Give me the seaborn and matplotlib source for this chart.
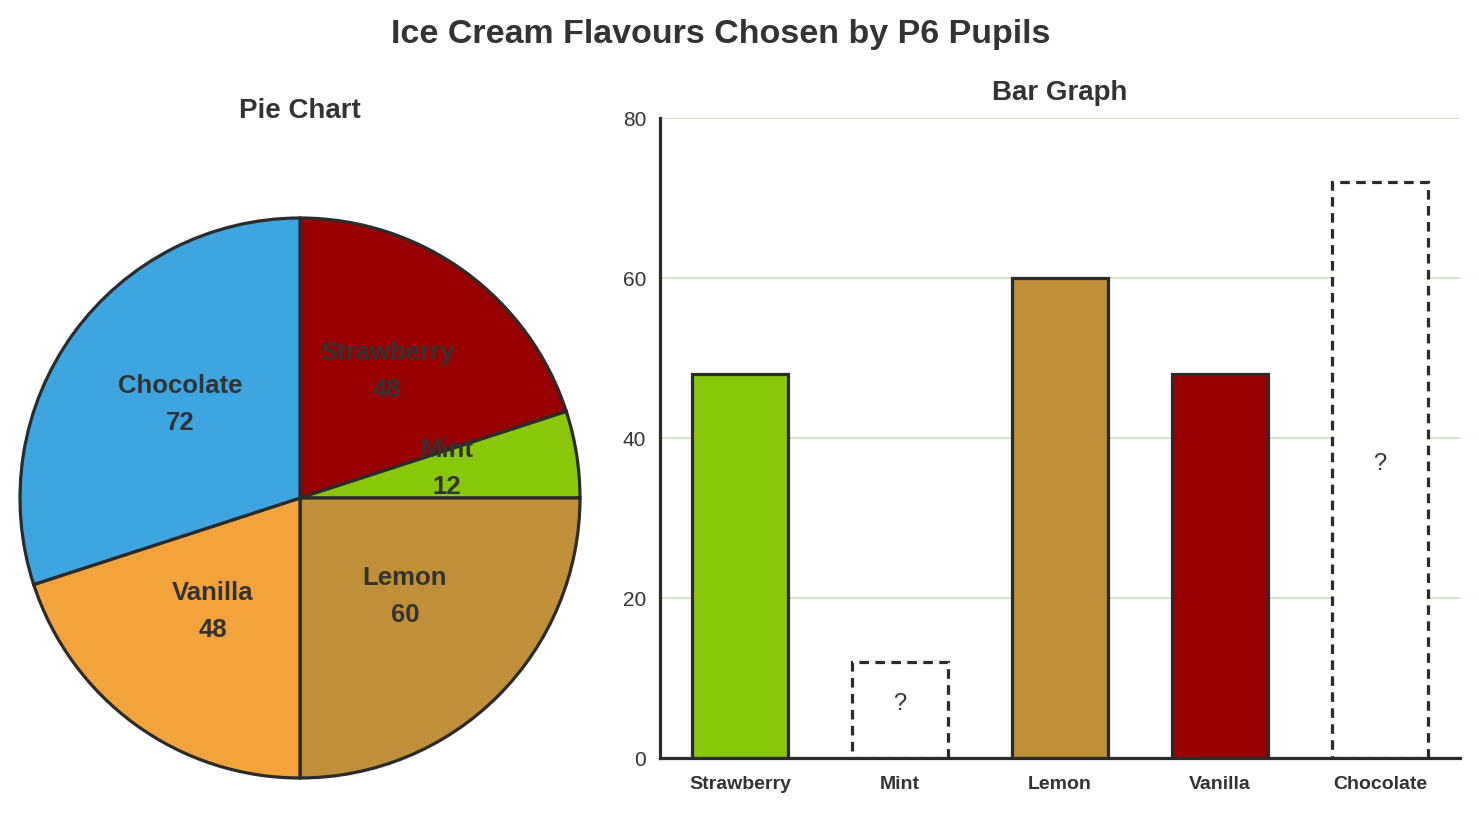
import matplotlib
matplotlib.use("Agg")
import matplotlib.pyplot as plt
import seaborn as sns

# --- dati ---
flavours = ["Strawberry", "Mint", "Lemon", "Vanilla", "Chocolate"]
pupils = [48, 12, 60, 48, 72]
pie_colors = ["#990000", "#88C709", "#BF9037", "#F2A33C", "#3DA5E0"]
bar_colors = ["#88C709", "#FFFFFF", "#BF9037", "#990000", "#FFFFFF"]
unknown = ["Mint", "Chocolate"]

sns.set_theme(style="white")
plt.rcParams["font.family"] = ["Liberation Sans", "DejaVu Sans"]
dark = "#333333"

fig = plt.figure(figsize=(14.79, 8.13), dpi=100)
W, H = 1479, 813

fig.text(721 / W, 1 - 35 / H, "Ice Cream Flavours Chosen by P6 Pupils",
         ha="center", va="center", fontsize=24.5, fontweight="bold", color=dark)

# --- torta ---
ax_pie = fig.add_axes([20 / W, 1 - 778 / H, 560 / W, 560 / H])
labels = [f"{f}\n{v}" for f, v in zip(flavours, pupils)]
wedges, texts = ax_pie.pie(pupils, labels=labels, colors=pie_colors, startangle=90,
                           counterclock=False, labeldistance=0.53,
                           wedgeprops=dict(edgecolor="#2b2b2b", linewidth=2.3),
                           textprops=dict(fontsize=18.5, fontweight="bold", color=dark,
                                          ha="center", va="center", linespacing=1.65))
# piccolo spostamento verso l'alto delle etichette
for t in texts:
    x, y = t.get_position()
    t.set_position((x, y + 0.023))
ax_pie.set_xlim(-1.0, 1.0)
ax_pie.set_ylim(-1.0, 1.0)
fig.text(300 / W, 1 - 111 / H, "Pie Chart", ha="center", va="center",
         fontsize=20, fontweight="bold", color=dark)

# --- barre ---
ax = fig.add_axes([660 / W, 1 - 758 / H, 800 / W, 640 / H])
sns.barplot(x=flavours, y=pupils, hue=flavours, palette=bar_colors, legend=False,
            width=0.6, edgecolor="#2b2b2b", linewidth=2.3, saturation=1, ax=ax)
for patch, f, v in zip(ax.patches, flavours, pupils):
    if f in unknown:
        patch.set_facecolor("white")
        patch.set_linestyle((0, (3, 2)))
        ax.text(patch.get_x() + patch.get_width() / 2, v / 2, "?", ha="center",
                va="baseline", fontsize=17, color=dark)

ax.set_xlim(-0.5, 4.5)
ax.set_ylim(0, 80)
ax.set_yticks([0, 20, 40, 60, 80])
ax.yaxis.grid(True, color="#d2e6c9", linewidth=1.5)
ax.set_axisbelow(True)
for s in ["top", "right"]:
    ax.spines[s].set_visible(False)
for s in ["left", "bottom"]:
    ax.spines[s].set_color("#2b2b2b")
    ax.spines[s].set_linewidth(2.3)
ax.tick_params(axis="x", length=0, pad=13, labelsize=14, labelcolor=dark)
ax.tick_params(axis="y", length=0, pad=10, labelsize=15, labelcolor=dark)
for lbl in ax.get_xticklabels():
    lbl.set_fontweight("bold")
ax.set_xlabel("")
ax.set_ylabel("")
ax.set_title("Bar Graph", fontsize=20, fontweight="bold", color=dark, pad=13)

fig.savefig("out.png", dpi=100)
plt.close(fig)
